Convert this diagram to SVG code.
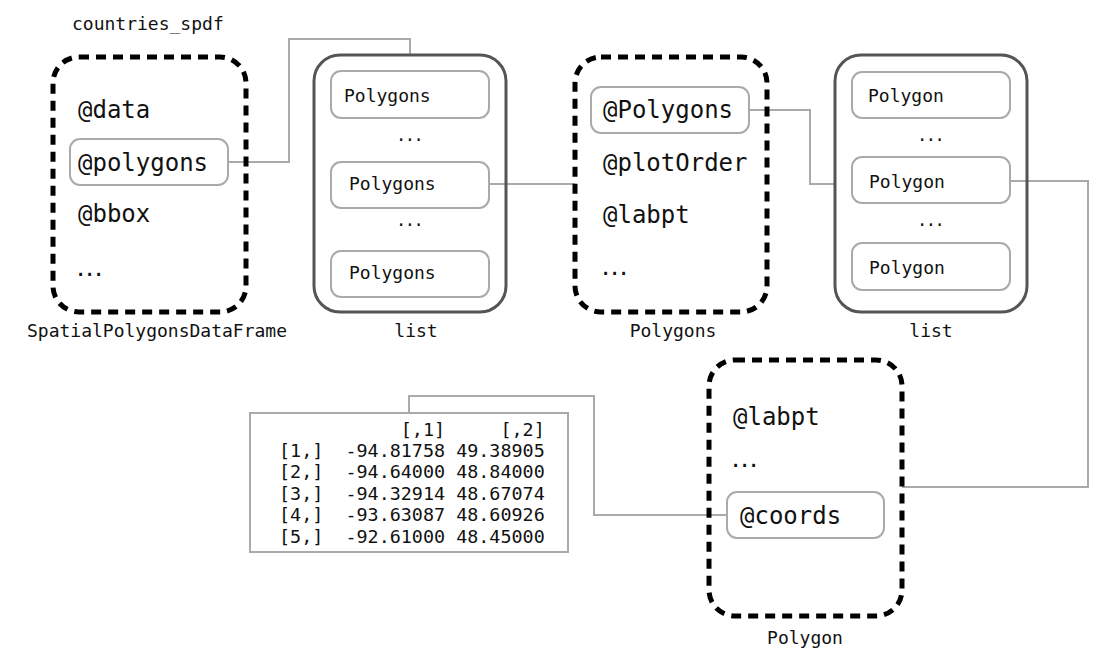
<svg xmlns="http://www.w3.org/2000/svg" width="1118" height="663" viewBox="0 0 1118 663">
<style>
text{font-family:"DejaVu Sans Mono","Liberation Mono",monospace;fill:#111}
.dash{fill:none;stroke:#000;stroke-width:5;stroke-dasharray:10 7}
.list{fill:none;stroke:#555;stroke-width:3}
.item{fill:#fff;stroke:#aaa;stroke-width:2}
.conn{fill:none;stroke:#aaa;stroke-width:2}
.big{font-size:24px}
.sm{font-size:18px}
.mx{font-size:18.4px;white-space:pre}
.lab{font-size:18px;text-anchor:middle}
.dots{font-size:22px;letter-spacing:-4.2px}
.sdots{font-size:17px;letter-spacing:-1.5px}
</style>
<rect width="1118" height="663" fill="#fff"/>
<g id="connectors">
<polyline class="conn" points="229,162 289,162 289,39 410,39 410,55"/>
<polyline class="conn" points="488,184 575,184"/>
<polyline class="conn" points="749,110 810,110 810,184 835,184"/>
<polyline class="conn" points="1010,181 1088,181 1088,487 902,487"/>
<polyline class="conn" points="727,515 594,515 594,396 409,396 409,412"/>
</g>
<g id="spdf">
<text class="sm" x="72" y="30">countries_spdf</text>
<rect class="dash" x="53" y="57" width="193" height="255" rx="26"/>
<text class="big" x="78" y="118">@data</text>
<rect class="item" x="70" y="139" width="158" height="46" rx="10"/>
<text class="big" x="78" y="171">@polygons</text>
<text class="big" x="78" y="222">@bbox</text>
<text class="dots" x="74" y="276">...</text>
<text class="lab" x="157" y="337">SpatialPolygonsDataFrame</text>
</g>
<g id="list1">
<rect class="list" x="314" y="55" width="192" height="257" rx="26"/>
<rect class="item" x="331" y="71" width="158" height="47" rx="10"/>
<text class="sm" x="344" y="102">Polygons</text>
<text class="sdots" x="396" y="141">...</text>
<rect class="item" x="331" y="162" width="158" height="46" rx="10"/>
<text class="sm" x="349" y="190">Polygons</text>
<text class="sdots" x="396" y="226">...</text>
<rect class="item" x="331" y="251" width="158" height="46" rx="10"/>
<text class="sm" x="349" y="279">Polygons</text>
<text class="lab" x="416" y="337">list</text>
</g>
<g id="polygons">
<rect class="dash" x="575" y="57" width="192" height="255" rx="26"/>
<rect class="item" x="591" y="87" width="158" height="46" rx="10"/>
<text class="big" x="603" y="118">@Polygons</text>
<text class="big" x="603" y="171">@plotOrder</text>
<text class="big" x="603" y="223">@labpt</text>
<text class="dots" x="599" y="275">...</text>
<text class="lab" x="673" y="337">Polygons</text>
</g>
<g id="list2">
<rect class="list" x="835" y="55" width="192" height="257" rx="26"/>
<rect class="item" x="852" y="72" width="158" height="46" rx="10"/>
<text class="sm" x="868" y="102">Polygon</text>
<text class="sdots" x="917" y="141">...</text>
<rect class="item" x="852" y="157" width="158" height="46" rx="10"/>
<text class="sm" x="869" y="188">Polygon</text>
<text class="sdots" x="917" y="226">...</text>
<rect class="item" x="852" y="243" width="158" height="47" rx="10"/>
<text class="sm" x="869" y="274">Polygon</text>
<text class="lab" x="931" y="337">list</text>
</g>
<g id="polygon">
<rect class="dash" x="709" y="360" width="193" height="256" rx="26"/>
<text class="big" x="733" y="425">@labpt</text>
<text class="dots" x="729" y="467">...</text>
<rect class="item" x="727" y="492" width="157" height="46" rx="10"/>
<text class="big" x="740" y="524">@coords</text>
<text class="lab" x="805" y="644">Polygon</text>
</g>
<g id="matrix">
<rect class="item" x="250" y="413" width="318" height="139"/>
<text class="mx" x="279" y="436">           [,1]     [,2]</text>
<text class="mx" x="279" y="457">[1,]  -94.81758 49.38905</text>
<text class="mx" x="279" y="478">[2,]  -94.64000 48.84000</text>
<text class="mx" x="279" y="500">[3,]  -94.32914 48.67074</text>
<text class="mx" x="279" y="521">[4,]  -93.63087 48.60926</text>
<text class="mx" x="279" y="543">[5,]  -92.61000 48.45000</text>
</g>
</svg>
